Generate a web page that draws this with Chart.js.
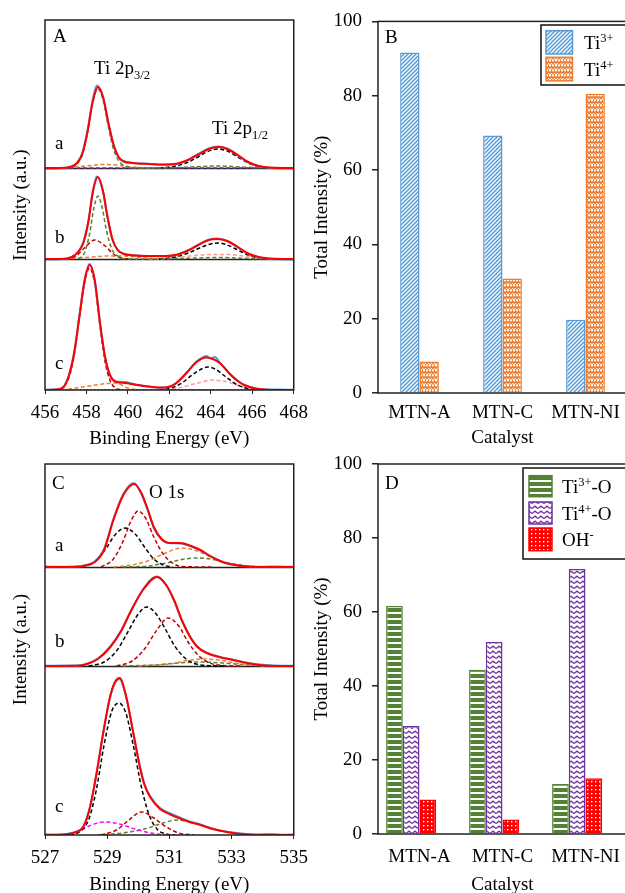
<!DOCTYPE html>
<html>
<head>
<meta charset="utf-8">
<script src="https://cdn.jsdelivr.net/npm/chart.js@4.4.1/dist/chart.umd.min.js"></script>
<style>
html, body { margin:0; padding:0; background:#fff; overflow:hidden; width:625px; height:893px; }
.box { position:absolute; }
</style>
</head>
<body>
<div class="box" style="left:0;top:0"><canvas id="chA" width="316" height="450"></canvas></div>
<div class="box" style="left:310px;top:0"><canvas id="chB" width="330" height="450"></canvas></div>
<div class="box" style="left:0;top:440px"><canvas id="chC" width="316" height="460"></canvas></div>
<div class="box" style="left:310px;top:440px"><canvas id="chD" width="330" height="460"></canvas></div>
<script>
// ---- Ti 2p spectra (panel A), [binding energy eV, intensity]
const tiTicks = [456, 468];
const ti_a_fit = [[456,0],[457,0.3],[457.3,1.5],[457.55,5],[457.8,14],[458.05,36],[458.3,66],[458.55,81],[458.8,71],[459.05,46],[459.3,24],[459.55,11],[459.8,6.5],[460.2,5],[461,4],[461.8,3.5],[462.4,4.5],[462.9,8],[463.4,13.5],[463.9,19],[464.35,21],[464.8,19],[465.3,13],[465.8,6],[466.3,2],[466.8,0.5],[467.5,0],[468,0]];
const ti_a_raw = [[456,-0.8],[456.6,-0.5],[457,0.2],[457.3,1.8],[457.55,5.5],[457.8,15],[458.05,37.5],[458.3,68],[458.5,82.5],[458.8,71],[459.05,45],[459.3,23.5],[459.55,11],[459.8,6.8],[460.2,5.3],[461,4.2],[461.8,3.2],[462.4,4.3],[462.9,8.2],[463.4,14],[463.9,19.6],[464.35,21.6],[464.8,19.3],[465.3,12.6],[465.8,5.6],[466.3,1.8],[466.8,0.2],[467.5,-0.5],[468,-0.6]];
const ti_a_green = [[457,0],[457.5,3],[457.8,13],[458.05,35],[458.3,65],[458.55,79],[458.8,68],[459.05,42],[459.3,19],[459.6,6],[459.9,1.5],[460.3,0],[461.5,0],[463,1],[464.3,2],[465.5,1],[466.5,0]];
const ti_a_orange = [[456.8,0],[457.5,1],[458.2,2.5],[458.8,3.5],[459.4,3],[460,1.5],[460.6,0.5],[461.2,0]];
const ti_a_black = [[461.5,0],[462.2,1.5],[462.8,5],[463.3,10],[463.8,16],[464.3,19],[464.8,17],[465.3,11],[465.8,5],[466.3,1.5],[466.8,0]];
const ti_a_purple = [[457.2,0],[466.5,0]];

const ti_b_fit = [[456,0],[457,0.3],[457.3,2],[457.6,7],[457.85,16],[458.1,38],[458.3,66],[458.55,82],[458.8,68],[459,44],[459.25,20],[459.5,9],[459.8,5],[460.3,3.5],[461,3],[461.8,3],[462.4,4.5],[462.9,8.5],[463.4,14],[463.9,19],[464.3,20],[464.8,18],[465.3,12],[465.8,5.5],[466.3,2],[466.8,0.5],[467.5,0],[468,0]];
const ti_b_raw = [[456,-0.6],[456.7,-0.3],[457,0.4],[457.3,2.2],[457.6,7.5],[457.85,17],[458.1,39],[458.3,67],[458.5,82.5],[458.8,67],[459,43],[459.25,19.5],[459.5,9.3],[459.8,5.4],[460.3,3.8],[461,2.8],[461.8,2.7],[462.4,4.2],[462.9,8.8],[463.4,14.4],[463.9,19.3],[464.3,20.4],[464.8,17.6],[465.3,11.6],[465.8,5.2],[466.3,1.8],[466.8,0.2],[467.5,-0.4],[468,-0.5]];
const ti_b_green = [[457.6,0],[457.9,6],[458.15,25],[458.35,50],[458.55,63],[458.75,52],[458.95,30],[459.2,11],[459.5,3],[459.9,0],[461.5,0],[463,0.8],[464.3,1.5],[465.5,0.8],[466.5,0]];
const ti_b_darkred = [[457,0],[457.5,3],[457.9,11],[458.4,19],[458.9,13],[459.3,5],[459.7,1],[460.2,0]];
const ti_b_orange = [[457,0],[458,1.5],[459,3],[459.8,3],[460.6,1.5],[461.5,0]];
const ti_b_black = [[461.5,0],[462.3,2],[462.9,6],[463.4,10.5],[463.9,14.5],[464.35,16],[464.8,14],[465.3,9],[465.8,4],[466.3,1],[466.8,0]];
const ti_b_pink = [[461,0],[462,1],[463,3],[464,4.5],[464.8,4.5],[465.6,3],[466.4,1],[467.2,0]];

const ti_c_fit = [[456,0],[456.6,0.5],[456.9,3],[457.15,14],[457.4,36],[457.65,72],[457.9,108],[458.15,125],[458.4,110],[458.65,68],[458.9,33],[459.15,14],[459.45,8],[459.85,7],[460.3,5.5],[460.75,4],[461.2,3],[461.7,2.5],[462.05,3.5],[462.35,7],[462.83,17],[463.31,28],[463.79,32.5],[464.1,31],[464.43,27],[464.96,15],[465.3,9],[465.6,5],[466.2,1.2],[466.7,0.2],[467.2,0],[468,0]];
const ti_c_raw = [[456,0.3],[456.6,0.8],[456.9,3.4],[457.15,15],[457.4,37],[457.65,73],[457.9,109],[458.15,126],[458.4,109],[458.65,67],[458.9,32],[459.15,14.5],[459.45,8.5],[459.85,8],[460.3,5.8],[460.75,4.3],[461.2,2.8],[461.7,2.2],[462.05,3.8],[462.35,7.5],[462.83,17.5],[463.31,28.5],[463.79,34],[464.0,31.5],[464.2,33],[464.43,27.5],[464.96,15.5],[465.3,9.3],[465.6,5.4],[466.2,1.6],[466.7,0.6],[467.2,0.4],[468,0.2]];
const ti_c_darkred = [[456.7,0],[457.15,12],[457.4,34],[457.65,70],[457.9,106],[458.15,122],[458.4,106],[458.65,64],[458.9,28],[459.15,9],[459.4,2],[459.7,0]];
const ti_c_orange = [[456.8,0],[457.5,2],[458.3,4.5],[459,6.5],[459.4,7],[459.7,5],[460,2],[460.4,0.5],[461,0],[468,0]];
const ti_c_black = [[461.5,0],[462.1,2],[462.6,7],[463.1,15],[463.6,21.5],[463.85,23],[464.2,21],[464.7,13.5],[465.2,6],[465.7,1.8],[466.2,0]];
const ti_c_pink = [[461.5,0],[462.4,2],[463.2,6],[464.1,10],[464.8,8],[465.5,3.5],[466.2,1],[467,0]];
const ti_c_base = [[456.5,0],[467,0]];

// ---- O 1s spectra (panel C)
const oTicks = [527, 535];
const o_a_fit = [[527,0],[528,0.2],[528.3,1.5],[528.6,5],[528.9,17],[529.2,47],[529.52,72],[529.87,83],[530.1,74],[530.3,58],[530.5,40],[530.75,28],[531,24],[531.35,24],[531.7,21],[532,17],[532.3,11],[532.55,7],[532.8,4],[533.1,2],[533.5,0.5],[534,0],[535,0]];
const o_a_raw = [[527,0.4],[527.6,0.2],[528,0.5],[528.3,1.8],[528.6,5.6],[528.9,18],[529.2,48],[529.52,73],[529.85,84],[530.1,73],[530.3,57],[530.5,39],[530.75,27.5],[531,24],[531.35,23.5],[531.7,20.5],[532,16.5],[532.3,11.3],[532.55,7.4],[532.8,4.2],[533.1,2.3],[533.5,0.8],[534,0.3],[534.5,0.5],[535,0.2]];
const o_a_black = [[528.2,0],[528.6,5],[528.95,18],[529.25,32],[529.57,39],[529.9,33],[530.2,20],[530.5,8],[530.8,2],[531.1,0]];
const o_a_darkred = [[528.8,0],[529.2,8],[529.5,25],[529.75,45],[530,56],[530.25,48],[530.5,30],[530.8,13],[531.1,4],[531.4,0.5],[532.4,0]];
const o_a_orange = [[529.2,0],[529.8,2],[530.3,6],[530.8,13],[531.4,19],[531.9,16],[532.4,9],[532.9,3.5],[533.4,1],[534,0]];
const o_a_green = [[529.5,0],[530.3,1],[530.9,4],[531.4,7.5],[531.9,9],[532.4,7.5],[532.9,4],[533.4,1.5],[534,0]];

const o_b_fit = [[527,0],[528,0.2],[528.3,1.5],[528.7,7],[529.1,19],[529.45,35],[529.75,54],[530.15,76],[530.6,89],[530.9,81],[531.15,66],[531.4,46],[531.65,30],[531.9,19],[532.2,13],[532.6,9],[533.05,6],[533.5,3],[533.9,1],[534.4,0],[535,0]];
const o_b_raw = [[527,0.2],[527.6,0.4],[528,0.5],[528.3,1.8],[528.7,7.4],[529.1,19.5],[529.45,35.5],[529.75,54.5],[530.15,76.5],[530.6,89.5],[530.9,80.5],[531.15,65.5],[531.4,45.5],[531.65,30.3],[531.9,19.5],[532.2,13.4],[532.6,9.3],[533.05,6.3],[533.5,3.2],[533.9,1.4],[534.4,0.5],[535,0.3]];
const o_b_black = [[528.4,0],[528.9,4],[529.3,15],[529.7,36],[530,52],[530.27,59],[530.55,53],[530.85,38],[531.15,21],[531.5,8],[531.8,2.5],[532.2,0.5],[532.8,0]];
const o_b_darkred = [[529.3,0],[529.8,5],[530.2,17],[530.6,36],[530.96,48],[531.3,40],[531.6,24],[531.95,10],[532.3,3],[532.7,0.5],[533.3,0]];
const o_b_orange = [[530,0],[531,2],[531.6,5.5],[532.1,7],[532.6,6],[533.1,3],[533.6,1],[534.2,0]];
const o_b_green = [[529.5,0],[530.5,1],[531.3,3],[532,4],[532.7,3],[533.3,1.5],[534,0]];

const o_c_fit = [[527,0],[527.5,0.3],[528,3],[528.23,8],[528.45,28],[528.66,62],[528.87,102],[529.09,138],[529.25,153],[529.4,157],[529.6,140],[529.84,102],[530.05,68],[530.2,50],[530.38,38],[530.7,26],[531,21],[531.3,17],[531.6,13.5],[532,10],[532.4,6],[532.85,3],[533.3,1],[534,0],[535,0]];
const o_c_raw = [[527,0.5],[527.5,0.6],[528,3.3],[528.23,8.5],[528.45,28.5],[528.66,62],[528.87,101],[529.09,137],[529.25,152],[529.4,156],[529.6,139],[529.84,102],[530.05,69],[530.2,51],[530.38,39],[530.7,27],[531,22],[531.3,18],[531.6,14],[532,10.5],[532.4,6.3],[532.85,3.2],[533.3,1.5],[533.8,0.5],[534.2,1],[534.6,0.3],[535,0.8]];
const o_c_black = [[527.8,0],[528.1,3],[528.4,15],[528.65,45],[528.9,90],[529.15,124],[529.38,132],[529.6,122],[529.85,88],[530.1,48],[530.35,20],[530.6,6],[530.9,1],[531.2,0]];
const o_c_magenta = [[527.8,0],[528.1,4],[528.5,10],[528.93,13],[529.4,11],[529.9,6],[530.4,2],[530.9,0]];
const o_c_darkred = [[528.8,0],[529.3,5],[529.7,15],[530.1,23],[530.5,17],[530.9,8],[531.3,2],[531.8,0]];
const o_c_green = [[528.7,0],[529.5,2],[530.2,6],[530.8,12],[531.24,15],[531.8,12],[532.4,6],[533,2],[533.6,0.5],[534.2,0]];

// ---- bar charts (panels B and D), % of total intensity
const catalysts = ['MTN-A', 'MTN-C', 'MTN-NI'];
const ti3 = [91.6, 69.3, 19.7];
const ti4 = [8.5, 30.8, 80.5];
const ti3O = [61.6, 44.4, 13.5];
const ti4O = [29.2, 51.9, 71.6];
const ohO = [9.3, 3.9, 15.1];

const FONT = '"Liberation Serif", "Times New Roman", serif';
Chart.defaults.font.family = FONT;
Chart.defaults.font.size = 19;
Chart.defaults.color = '#000';

const RED = '#ff0000', BLUE = '#5b9bd5', GREEN = '#548235', DRED = '#c00000',
      ORANGE = '#ed7d31', PURPLE = '#7030a0', PINK = '#ff9a9a', MAGENTA = '#ff00ff';

function curve(pts, off, color, dash, width) {
  return {
    data: pts.map(p => ({x: p[0], y: p[1] + off})),
    borderColor: color,
    borderWidth: width || 1.5,
    borderDash: dash || [],
    pointRadius: 0,
    fill: false,
    cubicInterpolationMode: 'monotone'
  };
}
const DASH = [4, 2.5];

function rich(ctx, x, y, parts) {
  let cx = x;
  parts.forEach(p => {
    const size = p[1] ? 12.5 : 19;
    const dy = p[1] === 'sub' ? 5 : (p[1] === 'sup' ? -7 : 0);
    ctx.font = size + 'px ' + FONT;
    ctx.fillText(p[0], cx, y + dy);
    cx += ctx.measureText(p[0]).width;
  });
}

function makePattern(kind) {
  const c = document.createElement('canvas');
  const g = c.getContext('2d');
  if (kind === 'diag') {
    c.width = c.height = 4;
    g.fillStyle = '#fff'; g.fillRect(0, 0, 4, 4);
    g.strokeStyle = BLUE; g.lineWidth = 1.5;
    g.beginPath();
    g.moveTo(-1, 5); g.lineTo(5, -1);
    g.moveTo(-1, 1); g.lineTo(1, -1);
    g.moveTo(3, 5); g.lineTo(5, 3);
    g.stroke();
  } else if (kind === 'weave') {
    c.width = 6; c.height = 5;
    g.fillStyle = '#fff'; g.fillRect(0, 0, 6, 5);
    g.strokeStyle = ORANGE; g.lineWidth = 1.6;
    g.beginPath();
    g.moveTo(0, 3.5); g.lineTo(1.5, 1.2); g.lineTo(3, 3.5); g.lineTo(4.5, 1.2); g.lineTo(6, 3.5);
    g.stroke();
    g.fillStyle = ORANGE; g.fillRect(1, 4, 1, 1); g.fillRect(4, 4, 1, 1);
  } else if (kind === 'hlines') {
    c.width = 6; c.height = 6;
    g.fillStyle = '#fff'; g.fillRect(0, 0, 6, 6);
    g.fillStyle = GREEN; g.fillRect(0, 0, 6, 4);
  } else if (kind === 'wave') {
    c.width = 6; c.height = 5;
    g.fillStyle = '#fff'; g.fillRect(0, 0, 6, 5);
    g.strokeStyle = PURPLE; g.lineWidth = 1.3;
    g.beginPath();
    g.moveTo(0, 3.6); g.lineTo(3, 1.2); g.lineTo(6, 3.6);
    g.stroke();
  } else {
    c.width = c.height = 4;
    g.fillStyle = RED; g.fillRect(0, 0, 4, 4);
    g.fillStyle = '#fff'; g.fillRect(1, 1, 1.4, 1.4);
  }
  return g.createPattern(c, 'repeat');
}

function decor(opts) {
  return {
    id: 'decor',
    beforeDatasetsDraw(chart) {
      const {ctx, chartArea: a, scales} = chart;
      ctx.save();
      ctx.strokeStyle = '#222';
      ctx.lineWidth = 1.5;
      (opts.splits || []).forEach(v => {
        const y = Math.round(scales.y.getPixelForValue(v)) + 0.5;
        ctx.beginPath(); ctx.moveTo(a.left, y); ctx.lineTo(a.right, y); ctx.stroke();
      });
      ctx.restore();
    },
    afterDraw(chart) {
      const {ctx, chartArea: a} = chart;
      ctx.save();
      ctx.strokeStyle = '#222';
      ctx.lineWidth = 1.5;
      ctx.strokeRect(a.left, a.top, a.right - a.left, a.bottom - a.top);
      ctx.fillStyle = '#000';
      ctx.textBaseline = 'alphabetic';
      (opts.texts || []).forEach(t => rich(ctx, t.x, t.y, t.parts));
      const lg = opts.legend;
      if (lg) {
        ctx.fillStyle = '#fff';
        ctx.fillRect(lg.x, lg.y, lg.w, lg.h);
        ctx.strokeStyle = '#111';
        ctx.lineWidth = 1.5;
        ctx.strokeRect(lg.x, lg.y, lg.w, lg.h);
        lg.items.forEach(it => {
          ctx.fillStyle = it.fill;
          ctx.fillRect(lg.sx, it.y, lg.sw, it.h);
          ctx.strokeStyle = it.stroke;
          ctx.lineWidth = 1.5;
          ctx.strokeRect(lg.sx, it.y, lg.sw, it.h);
          ctx.fillStyle = '#000';
          rich(ctx, lg.tx, it.y + it.h / 2 + 6.5, it.label);
        });
      }
      ctx.restore();
    }
  };
}

const chartHeights = {chA: 60, chC: 65, chB: 57, chD: 66};

function spectrumChart(id, ticks, ymax, splits, datasets, xPad, titleBottom, padTop, texts) {
  return new Chart(document.getElementById(id), {
    type: 'line',
    data: {datasets: datasets},
    options: {
      responsive: false,
      animation: false,
      devicePixelRatio: 1,
      layout: {padding: {top: padTop, right: 0, left: 0, bottom: 0}},
      plugins: {legend: {display: false}, tooltip: {enabled: false}},
      scales: {
        x: {
          type: 'linear', min: ticks[0], max: ticks[1],
          ticks: {stepSize: 2, padding: xPad, color: '#000'},
          grid: {drawOnChartArea: false, drawTicks: true, tickLength: 4, color: '#222'},
          border: {display: false},
          title: {display: true, text: 'Binding Energy (eV)', padding: {top: 0, bottom: titleBottom}},
          afterFit(s) { s.height = chartHeights[id]; }
        },
        y: {
          min: 0, max: ymax,
          ticks: {display: false},
          grid: {display: false},
          border: {display: false},
          title: {display: true, text: 'Intensity (a.u.)', padding: {top: 10, bottom: 0}},
          afterFit(s) { s.width = 45; }
        }
      }
    },
    plugins: [decor({splits: splits, texts: texts})]
  });
}

// Panel A: three spectra stacked (c at bottom)
const offA = {a: 222, b: 131, c: 0};
spectrumChart('chA', tiTicks, 370, [offA.b, offA.a], [
  curve(ti_a_fit, offA.a, RED, null, 2),
  curve(ti_a_raw, offA.a, BLUE, null, 2),
  curve(ti_a_green, offA.a, GREEN, DASH),
  curve(ti_a_orange, offA.a, ORANGE, DASH),
  curve(ti_a_black, offA.a, '#000', DASH),
  curve(ti_a_purple, offA.a, PURPLE, DASH),
  curve(ti_b_fit, offA.b, RED, null, 2),
  curve(ti_b_raw, offA.b, BLUE, null, 2),
  curve(ti_b_green, offA.b, GREEN, DASH),
  curve(ti_b_darkred, offA.b, DRED, DASH),
  curve(ti_b_orange, offA.b, ORANGE, DASH),
  curve(ti_b_black, offA.b, '#000', DASH),
  curve(ti_b_pink, offA.b, PINK, DASH),
  curve(ti_c_fit, offA.c, RED, null, 2),
  curve(ti_c_raw, offA.c, BLUE, null, 2),
  curve(ti_c_darkred, offA.c, DRED, DASH),
  curve(ti_c_orange, offA.c, ORANGE, DASH),
  curve(ti_c_black, offA.c, '#000', DASH),
  curve(ti_c_pink, offA.c, PINK, DASH),
  curve(ti_c_base, offA.c, '#000', [1.5, 2])
], 8, 0, 20, [
  {x: 53, y: 42, parts: [['A']]},
  {x: 94, y: 74, parts: [['Ti 2p'], ['3/2', 'sub']]},
  {x: 212, y: 134, parts: [['Ti 2p'], ['1/2', 'sub']]},
  {x: 55, y: 149, parts: [['a']]},
  {x: 55, y: 243, parts: [['b']]},
  {x: 55, y: 369, parts: [['c']]}
]);

// Panel C: O 1s spectra
const offC = {a: 268, b: 169, c: 0};
spectrumChart('chC', oTicks, 371, [offC.b, offC.a], [
  curve(o_a_fit, offC.a, RED, null, 2),
  curve(o_a_raw, offC.a, BLUE, null, 2),
  curve(o_a_black, offC.a, '#000', DASH),
  curve(o_a_darkred, offC.a, DRED, DASH),
  curve(o_a_orange, offC.a, ORANGE, DASH),
  curve(o_a_green, offC.a, GREEN, DASH),
  curve(o_b_fit, offC.b, RED, null, 2),
  curve(o_b_raw, offC.b, BLUE, null, 2),
  curve(o_b_black, offC.b, '#000', DASH),
  curve(o_b_darkred, offC.b, DRED, DASH),
  curve(o_b_orange, offC.b, ORANGE, DASH),
  curve(o_b_green, offC.b, GREEN, DASH),
  curve(o_c_fit, offC.c, RED, null, 2),
  curve(o_c_raw, offC.c, BLUE, null, 2),
  curve(o_c_black, offC.c, '#000', DASH),
  curve(o_c_magenta, offC.c, MAGENTA, DASH),
  curve(o_c_darkred, offC.c, DRED, DASH),
  curve(o_c_green, offC.c, GREEN, DASH)
], 8, 3.5, 24, [
  {x: 52, y: 49, parts: [['C']]},
  {x: 149, y: 58, parts: [['O 1s']]},
  {x: 55, y: 111, parts: [['a']]},
  {x: 55, y: 207, parts: [['b']]},
  {x: 55, y: 372, parts: [['c']]}
]);

function barChart(id, datasets, catPct, xPad, titleBottom, padTop, texts, legend) {
  return new Chart(document.getElementById(id), {
    type: 'bar',
    data: {labels: catalysts, datasets: datasets},
    options: {
      responsive: false,
      animation: false,
      devicePixelRatio: 1,
      layout: {padding: {top: padTop, right: 13, left: 0, bottom: 0}},
      datasets: {bar: {categoryPercentage: catPct, barPercentage: 1, borderWidth: 1.5}},
      plugins: {legend: {display: false}, tooltip: {enabled: false}},
      scales: {
        x: {
          ticks: {padding: xPad, color: '#000'},
          grid: {display: false, drawTicks: false},
          border: {display: false},
          title: {display: true, text: 'Catalyst', padding: {top: 0, bottom: titleBottom}},
          afterFit(s) { s.height = chartHeights[id]; }
        },
        y: {
          min: 0, max: 100,
          ticks: {stepSize: 20, padding: 10, color: '#000'},
          grid: {drawOnChartArea: false, drawTicks: true, tickLength: 6, color: '#222', lineWidth: 1.5},
          border: {display: false},
          title: {display: true, text: 'Total Intensity (%)', padding: {top: 1, bottom: 0}},
          afterFit(s) { s.width = 68; }
        }
      }
    },
    plugins: [decor({texts: texts, legend: legend})]
  });
}

const pDiag = makePattern('diag'), pWeave = makePattern('weave');
const pH = makePattern('hlines'), pWave = makePattern('wave'), pDots = makePattern('dots');

barChart('chB', [
  {label: 'Ti3+', data: ti3, backgroundColor: pDiag, borderColor: BLUE},
  {label: 'Ti4+', data: ti4, backgroundColor: pWeave, borderColor: ORANGE}
], 0.467, 9, 0.5, 21, [
  {x: 75, y: 43, parts: [['B']]}
], {
  x: 231, y: 25, w: 130, h: 60, sx: 236, sw: 26.5, tx: 274,
  items: [
    {y: 30.7, h: 23.3, fill: pDiag, stroke: BLUE, label: [['Ti'], ['3+', 'sup']]},
    {y: 57.3, h: 23.5, fill: pWeave, stroke: ORANGE, label: [['Ti'], ['4+', 'sup']]}
  ]
});

barChart('chD', [
  {label: 'Ti3+-O', data: ti3O, backgroundColor: pH, borderColor: GREEN},
  {label: 'Ti4+-O', data: ti4O, backgroundColor: pWave, borderColor: PURPLE},
  {label: 'OH-', data: ohO, backgroundColor: pDots, borderColor: RED},
  {label: '', data: [null, null, null]}
], 0.805, 12, 4, 24, [
  {x: 75, y: 49, parts: [['D']]}
], {
  x: 213, y: 28, w: 130, h: 91, sx: 219, sw: 23, tx: 252,
  items: [
    {y: 35.7, h: 21, fill: pH, stroke: GREEN, label: [['Ti'], ['3+', 'sup'], ['-O']]},
    {y: 62, h: 22, fill: pWave, stroke: PURPLE, label: [['Ti'], ['4+', 'sup'], ['-O']]},
    {y: 88, h: 22.7, fill: pDots, stroke: RED, label: [['OH'], ['-', 'sup']]}
  ]
});
</script>
</body>
</html>
